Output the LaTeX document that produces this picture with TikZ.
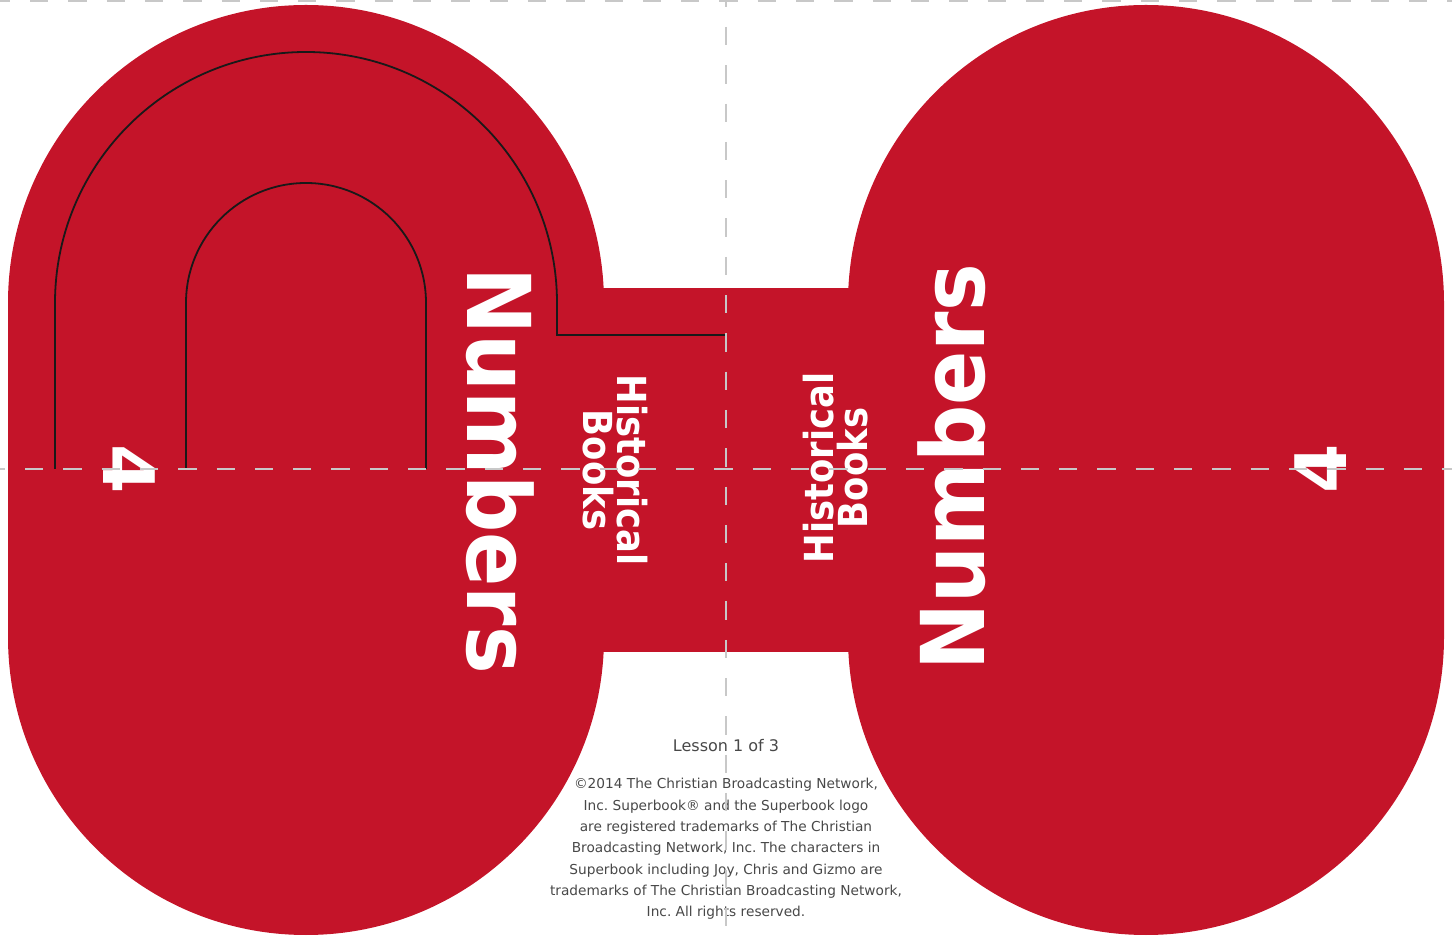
\documentclass[tikz,border=0pt]{standalone}
\usepackage{fontspec}
\setmainfont{DejaVu Sans}
\definecolor{bookred}{RGB}{196,20,41}
\definecolor{foldgray}{RGB}{200,200,200}
\definecolor{notegray}{RGB}{72,72,72}
\tikzset{
  cutline/.style={draw=black!90,line width=1.8pt},
  foldline/.style={foldgray,line width=2.3pt,dash pattern=on 18.3pt off 20pt},
  bigtitle/.style={white,inner sep=0pt,font=\bfseries\fontsize{88}{88}\selectfont},
  subtitle/.style={white,inner sep=0pt,align=center,font=\bfseries\fontsize{40}{34}\selectfont},
  lessonno/.style={white,inner sep=0pt,font=\bfseries\fontsize{71}{71}\selectfont},
  smallprint/.style={notegray,inner sep=0pt,align=center}
}
\frenchspacing
\begin{document}
\begin{tikzpicture}[x=1pt,y=1pt]
    \useasboundingbox (0,0) rectangle (1452,935);
    % red shapes
    \fill[bookred] (8,298) -- (8,632) arc[start angle=180,end angle=0,radius=298pt] -- (604,298) arc[start angle=0,end angle=-180,radius=298pt] -- cycle;
    \fill[bookred] (848,298) -- (848,632) arc[start angle=180,end angle=0,radius=298pt] -- (1444,298) arc[start angle=0,end angle=-180,radius=298pt] -- cycle;
    \fill[bookred] (600,283) rectangle (852,647);
    % cut lines
    \draw[cutline] (55,466) -- (55,632) arc[start angle=180,end angle=0,radius=251pt] -- (557,600) -- (726,600);
    \draw[cutline] (186,466) -- (186,632) arc[start angle=180,end angle=0,radius=120pt] -- (426,466);
    % left side texts
    \node[bigtitle,rotate=-90] (numbersL) at (500,464) {\scalebox{0.91}[1]{Numbers}};
    \node[subtitle,rotate=-90] (historyL) at (615,465) {\scalebox{0.885}[1]{Historical}\\\scalebox{0.885}[1]{Books}};
    \node[lessonno,rotate=-90] (fourL) at (129,466) {4};
    % right side texts
    \node[bigtitle,rotate=90] (numbersR) at (952,468) {\scalebox{0.91}[1]{Numbers}};
    \node[subtitle,rotate=90] (historyR) at (836,467) {\scalebox{0.885}[1]{Historical}\\\scalebox{0.885}[1]{Books}};
    \node[lessonno,rotate=90] (fourR) at (1321,466) {4};
    % small print
    \node[smallprint,font=\fontsize{16}{19}\selectfont] (lesson) at (726,189) {Lesson 1 of 3};
    \node[smallprint,font=\fontsize{13.7}{21.3}\selectfont] (copyright) at (726,86) {%
      ©2014 The Christian Broadcasting Network,\\
      Inc. Superbook® and the Superbook logo\\
      are registered trademarks of The Christian\\
      Broadcasting Network, Inc. The characters in\\
      Superbook including Joy, Chris and Gizmo are\\
      trademarks of The Christian Broadcasting Network,\\
      Inc. All rights reserved.};
    % fold lines
    \draw[foldline,dash phase=8.3pt] (0,934) -- (1452,934);
    \draw[foldline,dash phase=13.3pt] (0,466) -- (1452,466);
    \draw[foldline,dash phase=11.3pt] (726,935) -- (726,0);
\end{tikzpicture}
\end{document}
